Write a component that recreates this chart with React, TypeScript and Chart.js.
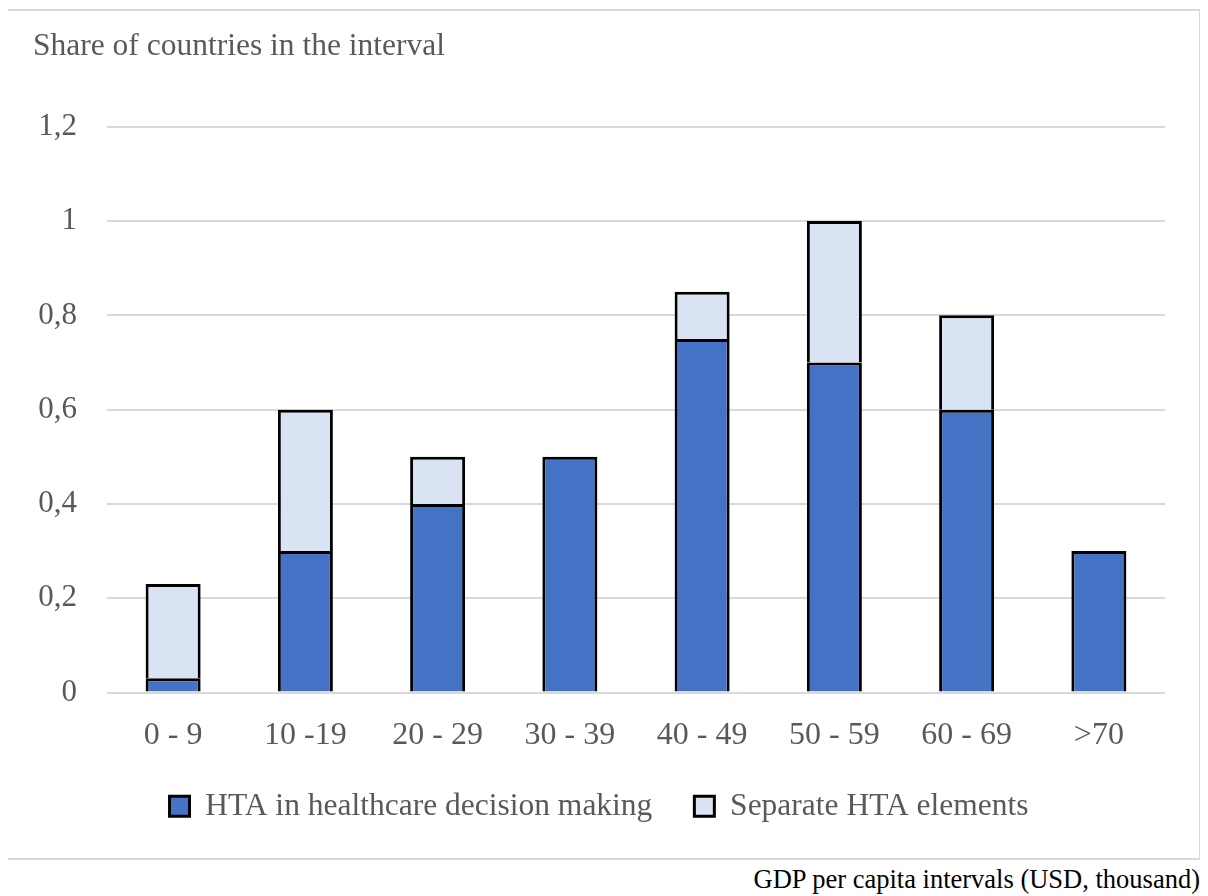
import React, { useEffect, useRef } from "react";
import { Chart, registerables } from "chart.js";

Chart.register(...registerables);

const categories = ["0 - 9", "10 -19", "20 - 29", "30 - 39", "40 - 49", "50 - 59", "60 - 69", ">70"];
const htaDecisionMaking = [0.03, 0.3, 0.4, 0.5, 0.75, 0.7, 0.6, 0.3];
const separateElements = [0.2, 0.3, 0.1, 0, 0.1, 0.3, 0.2, 0];
const seriesNames = ["HTA in healthcare decision making", "Separate HTA elements"];
const yAxisTitle = "Share of countries in the interval";
const xAxisNote = "GDP per capita intervals (USD, thousand)";

const FONT = "'Liberation Serif', 'Times New Roman', serif";
const TEXT = "#595959";

export default function App() {
  const canvasRef = useRef<HTMLCanvasElement | null>(null);

  useEffect(() => {
    const canvas = canvasRef.current;
    if (!canvas) return;
    const chart = new Chart(canvas, {
      type: "bar",
      data: {
        labels: categories,
        datasets: [
          {
            label: seriesNames[0],
            data: htaDecisionMaking,
            backgroundColor: "#4472C4",
            borderColor: "#000000",
            borderWidth: 3,
            borderSkipped: "start",
            categoryPercentage: 1,
            barPercentage: 0.416,
          },
          {
            label: seriesNames[1],
            data: separateElements,
            backgroundColor: "#DAE3F3",
            borderColor: "#000000",
            borderWidth: 3,
            borderSkipped: "start",
            categoryPercentage: 1,
            barPercentage: 0.416,
          },
        ],
      },
      options: {
        responsive: false,
        animation: false,
        devicePixelRatio: 1,
        layout: { padding: { left: 26, right: 34, top: 17, bottom: 26 } },
        plugins: {
          tooltip: { enabled: false },
          title: {
            display: true,
            text: yAxisTitle,
            align: "start",
            color: TEXT,
            font: { family: FONT, size: 31.5, weight: "normal" },
            padding: { top: 0, bottom: 61 },
          },
          legend: {
            position: "bottom",
            labels: {
              color: TEXT,
              font: { family: FONT, size: 31.5 },
              boxWidth: 20,
              boxHeight: 20,
              padding: 42,
            },
          },
        },
        scales: {
          x: {
            stacked: true,
            grid: { display: false, drawTicks: false },
            border: { display: false },
            ticks: {
              color: TEXT,
              font: { family: FONT, size: 32 },
              padding: 24,
              maxRotation: 0,
            },
            afterFit: (scale: any) => {
              scale.height = 56;
            },
          },
          y: {
            stacked: true,
            min: 0,
            max: 1.2,
            grid: { color: "#D9D9D9", lineWidth: 2, drawTicks: false },
            border: { display: false },
            ticks: {
              stepSize: 0.2,
              color: TEXT,
              font: { family: FONT, size: 31 },
              padding: 30,
              callback: (v: any) => String(Math.round(Number(v) * 10) / 10).replace(".", ","),
            },
            afterFit: (scale: any) => {
              scale.width = 74;
            },
          },
        },
      },
    });
    return () => chart.destroy();
  }, []);

  return (
    <div style={{ position: "relative", width: 1208, height: 904, margin: -8, background: "#fff" }}>
      <div
        style={{
          position: "absolute",
          left: 5,
          top: 9,
          width: 1196,
          height: 851,
          border: "2px solid #D9D9D9",
          boxSizing: "border-box",
        }}
      >
        <canvas ref={canvasRef} width={1192} height={847} style={{ display: "block" }} />
      </div>
      <div
        style={{
          position: "absolute",
          right: 8,
          top: 864,
          fontFamily: FONT,
          fontSize: 26.5,
          lineHeight: "30px",
          color: "#000",
          whiteSpace: "nowrap",
        }}
      >
        {xAxisNote}
      </div>
    </div>
  );
}
